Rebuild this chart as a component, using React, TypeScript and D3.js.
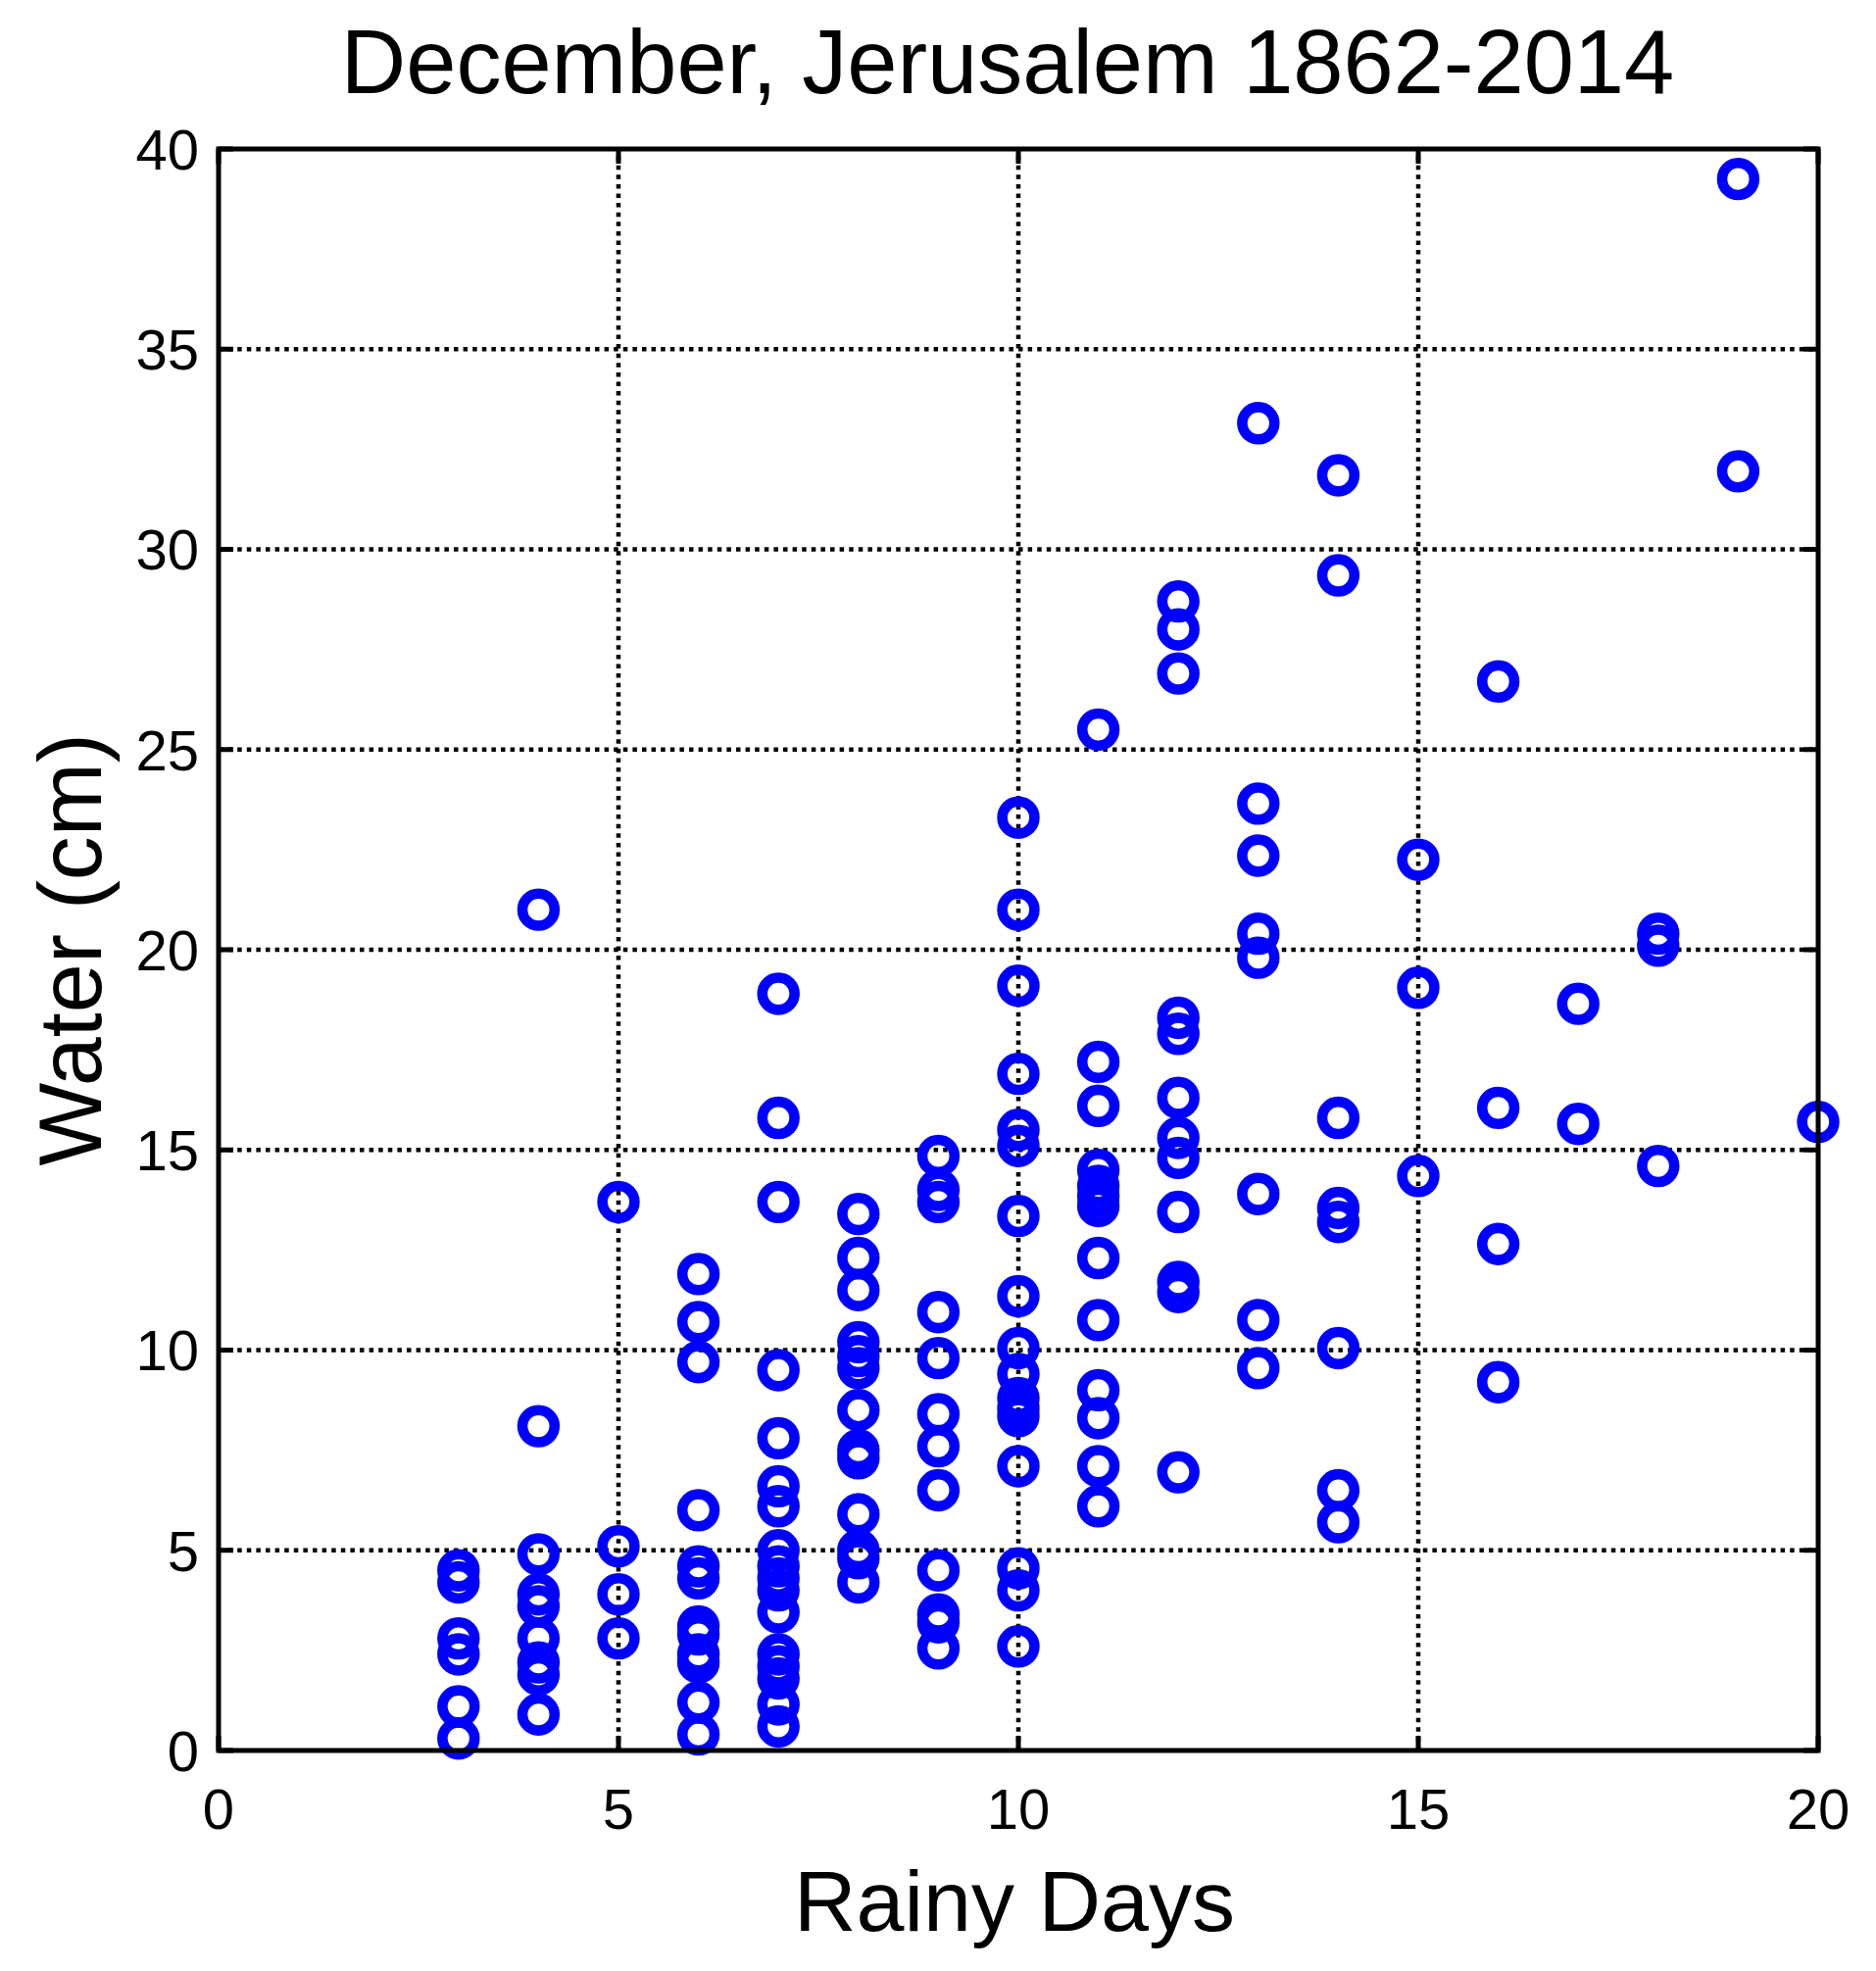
import * as d3 from 'd3';

// rainy days in December (x) and the water readings (cm) seen for each count
const dayCounts = [3, 4, 5, 6, 7, 8, 9, 10, 11, 12, 13, 14, 15, 16, 17, 18, 19, 20];

const waterCm = [
  [4.5, 4.2, 2.8, 2.4, 1.1, 0.3],
  [21.0, 8.1, 4.9, 3.9, 3.6, 2.8, 2.2, 1.9, 0.9],
  [13.7, 5.1, 3.9, 2.8],
  [11.9, 10.7, 9.7, 6.0, 4.6, 4.3, 3.1, 2.9, 2.4, 2.2, 1.2, 0.4],
  [18.9, 15.8, 13.7, 9.5, 7.8, 6.6, 6.1, 5.0, 4.6, 4.3, 4.0, 3.45, 2.4, 2.1, 1.8, 1.15, 0.6],
  [13.4, 12.3, 11.5, 10.2, 9.85, 9.55, 8.5, 7.5, 7.3, 5.9, 5.0, 4.8, 4.2],
  [14.85, 14.0, 13.7, 10.95, 9.8, 8.4, 7.6, 6.5, 4.5, 3.4, 3.2, 2.55],
  [23.3, 21.0, 19.1, 16.9, 15.5, 15.1, 13.35, 11.35, 10.05, 9.4, 8.8, 8.55, 8.35, 7.1, 4.55, 4.0, 2.6],
  [25.5, 17.2, 16.1, 14.5, 14.1, 13.85, 13.6, 12.3, 10.75, 9.0, 8.3, 7.1, 6.1],
  [28.7, 28.0, 26.9, 18.3, 17.9, 16.3, 15.3, 14.8, 13.45, 11.7, 11.45, 6.95],
  [33.15, 23.65, 22.35, 20.4, 19.8, 13.9, 10.75, 9.55],
  [31.85, 29.35, 15.8, 13.55, 13.2, 10.05, 6.5, 5.7],
  [22.25, 19.05, 14.35],
  [26.7, 16.05, 12.65, 9.2],
  [18.65, 15.65],
  [20.4, 20.1, 14.6],
  [39.25, 31.95],
  [15.7],
];

const xTicks = [0, 5, 10, 15, 20];
const yTicks = [0, 5, 10, 15, 20, 25, 30, 35, 40];

const titleText = 'December, Jerusalem 1862-2014';
const xLabel = 'Rainy Days';
const yLabel = 'Water (cm)';

const W = 1914;
const H = 2011;
const margin = { top: 152, right: 59, bottom: 225, left: 223 };
const font = '"Liberation Sans", Arial, Helvetica, sans-serif';

export default function App() {
  const x = d3.scaleLinear().domain([0, 20]).range([margin.left, W - margin.right]);
  const y = d3.scaleLinear().domain([0, 40]).range([H - margin.bottom, margin.top]);

  const [x0, x1] = x.range();
  const [y0, y1] = y.range(); // y0 bottom, y1 top

  const points = dayCounts.flatMap((d, i) => waterCm[i].map((w) => ({ d, w })));
  const tickLen = 15;

  return (
    <svg
      width={W}
      height={H}
      style={{ position: 'absolute', left: 0, top: 0, background: '#fff' }}
      fontFamily={font}
    >
      <rect x={0} y={0} width={W} height={H} fill="#fff" />

      {/* dotted grid */}
      <g stroke="#000" strokeWidth={4.5} strokeDasharray="4.5 5.1">
        {xTicks.slice(1, -1).map((t) => (
          <line key={'gx' + t} x1={x(t)} x2={x(t)} y1={y0} y2={y1} />
        ))}
        {yTicks.slice(1, -1).map((t) => (
          <line key={'gy' + t} x1={x0} x2={x1} y1={y(t)} y2={y(t)} />
        ))}
      </g>

      {/* markers */}
      <g fill="none" stroke="#0000ff" strokeWidth={10.6}>
        {points.map((p, i) => (
          <circle key={i} cx={x(p.d)} cy={y(p.w)} r={16.4} />
        ))}
      </g>

      {/* inward ticks on all four sides */}
      <g stroke="#000" strokeWidth={5}>
        {xTicks.map((t) => (
          <g key={'tx' + t}>
            <line x1={x(t)} x2={x(t)} y1={y0} y2={y0 - tickLen} />
            <line x1={x(t)} x2={x(t)} y1={y1} y2={y1 + tickLen} />
          </g>
        ))}
        {yTicks.map((t) => (
          <g key={'ty' + t}>
            <line x1={x0} x2={x0 + tickLen} y1={y(t)} y2={y(t)} />
            <line x1={x1} x2={x1 - tickLen} y1={y(t)} y2={y(t)} />
          </g>
        ))}
      </g>

      {/* frame */}
      <rect
        x={x0}
        y={y1}
        width={x1 - x0}
        height={y0 - y1}
        fill="none"
        stroke="#000"
        strokeWidth={5}
      />

      {/* tick labels */}
      <g fontSize={58} fill="#000">
        {xTicks.map((t) => (
          <text key={'lx' + t} x={x(t)} y={1866} textAnchor="middle">
            {t}
          </text>
        ))}
        {yTicks.map((t) => (
          <text key={'ly' + t} x={x0 - 20} y={y(t)} dy="0.36em" textAnchor="end">
            {t}
          </text>
        ))}
      </g>

      <text x={1028} y={95} textAnchor="middle" fontSize={92} fill="#000">
        {titleText}
      </text>
      <text x={1035} y={1970} textAnchor="middle" fontSize={88} fill="#000">
        {xLabel}
      </text>
      <text
        transform={`translate(103,${(y0 + y1) / 2}) rotate(-90)`}
        textAnchor="middle"
        fontSize={90}
        fill="#000"
      >
        {yLabel}
      </text>
    </svg>
  );
}
